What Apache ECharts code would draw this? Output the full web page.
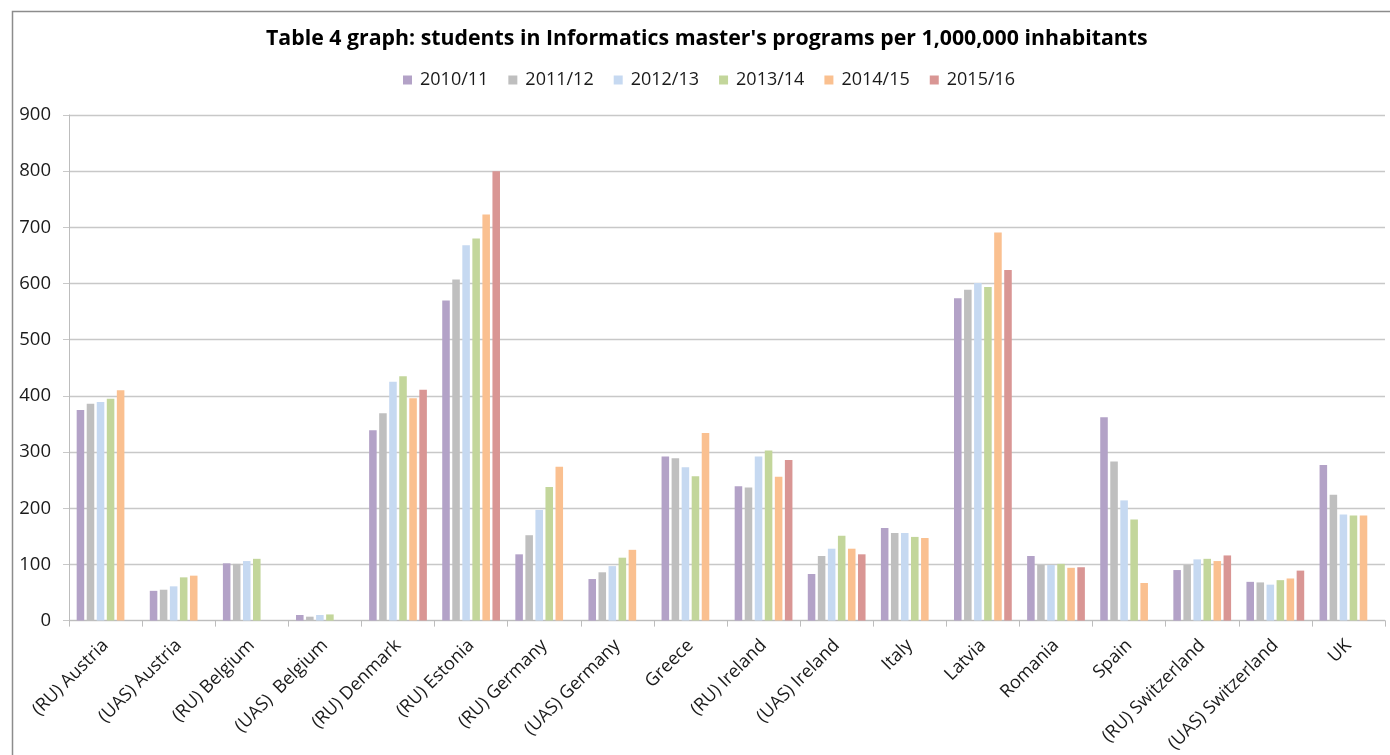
<!DOCTYPE html>
<html>
<head>
<meta charset="utf-8">
<title>Informatics master's students per 1,000,000 inhabitants</title>
<script src="https://cdn.jsdelivr.net/npm/echarts@6/dist/echarts.min.js"></script>
<style>
  html, body { margin: 0; padding: 0; background: #ffffff; }
  #chart { width: 1390px; height: 755px; }
</style>
</head>
<body>
<div id="chart"></div>
<script>
// Institutions / countries along the x axis
const categories = [
  "(RU) Austria", "(UAS) Austria", "(RU) Belgium", "(UAS)  Belgium",
  "(RU) Denmark", "(RU) Estonia", "(RU) Germany", "(UAS) Germany",
  "Greece", "(RU) Ireland", "(UAS) Ireland", "Italy", "Latvia",
  "Romania", "Spain", "(RU) Switzerland", "(UAS) Switzerland", "UK"
];

// Academic years shown in the legend
const years = ["2010/11", "2011/12", "2012/13", "2013/14", "2014/15", "2015/16"];

// Students per 1,000,000 inhabitants, one array per academic year (null = no data)
const y2010 = [375, 53, 102, 10, 339, 570, 118, 74, 292, 239, 83, 165, 574, 115, 362, 90, 69, 277];
const y2011 = [386, 55, 101, 7, 369, 607, 152, 86, 289, 237, 115, 156, 589, 99, 283, 99, 68, 224];
const y2012 = [389, 61, 106, 10, 425, 668, 197, 97, 273, 292, 128, 156, 601, 99, 214, 109, 64, 189];
const y2013 = [395, 77, 110, 11, 435, 680, 238, 112, 257, 303, 151, 149, 594, 101, 180, 110, 72, 187];
const y2014 = [410, 80, null, null, 396, 723, 274, 126, 334, 256, 128, 147, 691, 94, 67, 106, 75, 187];
const y2015 = [null, null, null, null, 411, 800, null, null, null, 286, 118, null, 624, 95, null, 116, 89, null];

// Value axis ticks
const yMin = 0;
const yMax = 900;
const yStep = 100;

const seriesValues = [y2010, y2011, y2012, y2013, y2014, y2015];
const palette = ["#b3a2c7", "#bfbfbf", "#c6d9f1", "#c3d69b", "#fac090", "#d99694"];

const FONT = "'Open Sans', 'Liberation Sans', sans-serif";

const chart = echarts.init(document.getElementById('chart'), null, { renderer: 'canvas' });

chart.setOption({
  animation: false,
  backgroundColor: '#ffffff',
  color: palette,
  title: {
    text: "Table 4 graph: students in Informatics master's programs per 1,000,000 inhabitants",
    left: 261,
    top: 23,
    textStyle: { fontFamily: FONT, fontSize: 21.3, fontWeight: 'bold', color: '#000000' }
  },
  legend: {
    data: years,
    left: 398,
    top: 66,
    itemWidth: 9,
    itemHeight: 9,
    itemGap: 20,
    icon: 'rect',
    textStyle: { fontFamily: FONT, fontSize: 18, color: '#1a1a1a', padding: [0, 0, 0, 3] }
  },
  grid: { left: 69, right: 5, top: 115, bottom: 134, containLabel: false },
  xAxis: {
    type: 'category',
    data: categories,
    boundaryGap: true,
    axisLine: { show: true, lineStyle: { color: '#bdbdbd', width: 1 } },
    axisTick: { show: true, alignWithLabel: false, length: 6, lineStyle: { color: '#bdbdbd' } },
    axisLabel: {
      interval: 0,
      rotate: 45,
      margin: 22,
      fontFamily: FONT,
      fontSize: 18,
      color: '#1a1a1a'
    },
    splitLine: { show: false }
  },
  yAxis: {
    type: 'value',
    min: yMin,
    max: yMax,
    interval: yStep,
    axisLine: { show: true, lineStyle: { color: '#bdbdbd', width: 1 } },
    axisTick: { show: true, length: 6, lineStyle: { color: '#c8c8c8' } },
    axisLabel: { fontFamily: FONT, fontSize: 18.5, color: '#1a1a1a', margin: 18 },
    splitLine: { show: true, lineStyle: { color: '#c8c8c8', width: 1.3 } }
  },
  series: years.map((name, i) => ({
    name: name,
    type: 'bar',
    data: seriesValues[i],
    barGap: '33%',
    barCategoryGap: '21%',
    itemStyle: { color: palette[i] }
  })),
  graphic: [{
    type: 'rect',
    left: 10,
    top: 9,
    shape: { width: 1420, height: 800 },
    style: { fill: 'none', stroke: '#8c8c8c', lineWidth: 1.5 },
    silent: true
  }]
});
</script>
</body>
</html>
